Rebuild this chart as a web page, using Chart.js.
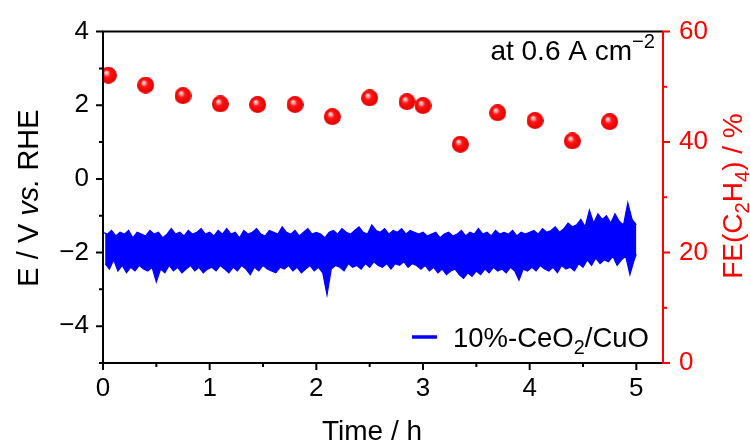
<!DOCTYPE html>
<html>
<head>
<meta charset="utf-8">
<script src="https://cdn.jsdelivr.net/npm/chart.js@4/dist/chart.umd.min.js"></script>
<style>
  html, body { margin: 0; padding: 0; background: #fff; }
</style>
</head>
<body>
<canvas id="chart" width="750" height="446"></canvas>
<script>
// FE(C2H4) sampling points
var feTimes = [0.05, 0.4, 0.75, 1.1, 1.45, 1.8, 2.15, 2.5, 2.85, 3.0, 3.35, 3.7, 4.05, 4.4, 4.75];
var feValues = [52.1, 50.3, 48.4, 46.9, 46.8, 46.8, 44.6, 48.0, 47.3, 46.6, 39.6, 45.3, 43.9, 40.2, 43.7];

// potential trace, read as upper / lower envelope every 0.04 h
var traceStep = 0.04;
var traceHigh = [
  -1.45,-1.5,-1.4,-1.55,-1.45,-1.5,-1.4,-1.6,-1.45,-1.5,-1.55,-1.4,-1.5,-1.45,-1.6,-1.5,-1.35,-1.5,-1.45,-1.55,-1.4,-1.5,-1.45,-1.35,-1.5,
  -1.45,-1.55,-1.4,-1.5,-1.35,-1.5,-1.45,-1.6,-1.4,-1.5,-1.45,-1.35,-1.5,-1.55,-1.4,-1.45,-1.5,-1.3,-1.45,-1.5,-1.4,-1.55,-1.45,-1.35,-1.5,
  -1.45,-1.5,-1.6,-1.45,-1.4,-1.5,-1.35,-1.45,-1.5,-1.4,-1.3,-1.45,-1.5,-1.25,-1.4,-1.45,-1.35,-1.5,-1.4,-1.45,-1.35,-1.5,-1.4,-1.45,-1.5,
  -1.45,-1.55,-1.5,-1.45,-1.6,-1.5,-1.45,-1.55,-1.5,-1.4,-1.55,-1.45,-1.5,-1.35,-1.5,-1.45,-1.55,-1.4,-1.5,-1.45,-1.5,-1.4,-1.55,-1.45,-1.5,
  -1.45,-1.4,-1.5,-1.35,-1.45,-1.4,-1.3,-1.45,-1.35,-1.2,-1.3,-1.25,-1.1,-1.3,-0.85,-1.2,-0.95,-1.1,-1.0,-1.2,-0.95,-1.15,-1.25,-0.65,-1.1,-1.25
];
var traceLow = [
  -2.3,-2.45,-2.2,-2.5,-2.35,-2.55,-2.4,-2.5,-2.35,-2.45,-2.5,-2.4,-2.8,-2.45,-2.55,-2.35,-2.5,-2.4,-2.55,-2.45,-2.35,-2.5,-2.4,-2.55,-2.45,
  -2.4,-2.5,-2.35,-2.45,-2.55,-2.4,-2.5,-2.35,-2.45,-2.6,-2.4,-2.5,-2.35,-2.45,-2.5,-2.55,-2.4,-2.45,-2.35,-2.5,-2.4,-2.55,-2.45,-2.35,-2.5,
  -2.4,-2.55,-3.15,-2.45,-2.35,-2.4,-2.5,-2.3,-2.4,-2.35,-2.45,-2.3,-2.4,-2.25,-2.35,-2.4,-2.3,-2.45,-2.3,-2.35,-2.25,-2.4,-2.3,-2.35,-2.45,
  -2.35,-2.5,-2.4,-2.55,-2.45,-2.6,-2.5,-2.45,-2.6,-2.7,-2.55,-2.65,-2.5,-2.6,-2.45,-2.55,-2.4,-2.5,-2.45,-2.55,-2.4,-2.5,-2.75,-2.45,-2.5,
  -2.4,-2.5,-2.35,-2.45,-2.5,-2.4,-2.55,-2.35,-2.45,-2.4,-2.5,-2.3,-2.4,-2.2,-2.35,-2.15,-2.3,-2.2,-2.25,-2.1,-2.35,-2.2,-2.1,-2.6,-2.2,-2.05
];

var FONT = '"Liberation Sans", Arial, sans-serif';
var BLUE = '#0000ff';

// envelope points, low side shifted half a step so edges look jagged
var highPoints = traceHigh.map(function(v, i) { return {x: i * traceStep, y: v}; });
var lowPoints = traceLow.map(function(v, i) { return {x: Math.min(i * traceStep + traceStep / 2, 5.0), y: v}; });

var fePoints = feTimes.map(function(t, k) { return {x: t, y: feValues[k]}; });

// shaded red sphere marker
function makeSphere(r)
{
  var c = document.createElement('canvas');
  c.width = 2 * r; c.height = 2 * r;
  var g = c.getContext('2d');
  var grad = g.createRadialGradient(r * 0.72, r * 0.65, 0, r, r, r);
  grad.addColorStop(0, '#ffffff');
  grad.addColorStop(0.2, '#ff9a9a');
  grad.addColorStop(0.42, '#ff1414');
  grad.addColorStop(1, '#e00000');
  g.fillStyle = grad;
  g.beginPath();
  g.arc(r, r, r, 0, Math.PI * 2);
  g.fill();
  return c;
}
var sphere = makeSphere(8.5);

// text with italic / sub / sup pieces
function richWidth(ctx, parts, size)
{
  var w = 0;
  parts.forEach(function(p) {
    var s = (p.sub || p.sup) ? size * 0.72 : size;
    ctx.font = (p.italic ? 'italic ' : '') + s + 'px ' + FONT;
    w += ctx.measureText(p.t).width;
  });
  return w;
}
function drawRich(ctx, parts, x, y, size, color, align, rot)
{
  ctx.save();
  ctx.translate(x, y);
  if (rot) ctx.rotate(rot);
  var w = richWidth(ctx, parts, size);
  var cx = align == 'center' ? -w / 2 : (align == 'right' ? -w : 0);
  ctx.fillStyle = color;
  ctx.textBaseline = 'alphabetic';
  ctx.textAlign = 'left';
  parts.forEach(function(p) {
    var s = (p.sub || p.sup) ? size * 0.72 : size;
    var dy = p.sub ? size * 0.25 : (p.sup ? -size * 0.42 : 0);
    ctx.font = (p.italic ? 'italic ' : '') + s + 'px ' + FONT;
    ctx.fillText(p.t, cx, dy);
    cx += ctx.measureText(p.t).width;
  });
  ctx.restore();
}

var decorPlugin = {
  id: 'decor',
  afterDraw: function(chart)
  {
    var ctx = chart.ctx;
    var a = chart.chartArea;
    var xs = chart.scales.x, ys = chart.scales.y, y1 = chart.scales.y1;
    ctx.save();
    ctx.lineWidth = 2;
    ctx.lineCap = 'butt';

    // frame
    ctx.strokeStyle = '#000';
    ctx.beginPath();
    ctx.moveTo(a.right, a.top); ctx.lineTo(a.left, a.top);
    ctx.lineTo(a.left, a.bottom); ctx.lineTo(a.right, a.bottom);
    ctx.stroke();

    // left ticks
    ctx.beginPath();
    for (var v = -5; v <= 4; v++) {
      var py = ys.getPixelForValue(v);
      var len = (v % 2 == 0) ? 7 : 4;
      ctx.moveTo(a.left, py); ctx.lineTo(a.left - len, py);
    }
    // bottom ticks
    for (var t = 0; t <= 5; t += 0.5) {
      var px = xs.getPixelForValue(t);
      var len2 = (Math.abs(t - Math.round(t)) < 0.01) ? 7 : 4;
      ctx.moveTo(px, a.bottom); ctx.lineTo(px, a.bottom + len2);
    }
    ctx.stroke();

    // right axis in red
    ctx.strokeStyle = '#ff0000';
    ctx.beginPath();
    ctx.moveTo(a.right, a.top - 1); ctx.lineTo(a.right, a.bottom + 1);
    for (var f = 0; f <= 60; f += 10) {
      var fy = y1.getPixelForValue(f);
      var len3 = (f % 20 == 0) ? 7 : 4;
      ctx.moveTo(a.right, fy); ctx.lineTo(a.right + len3, fy);
    }
    ctx.stroke();

    // axis titles
    drawRich(ctx, [{t: 'E / V '}, {t: 'vs.', italic: true}, {t: ' RHE'}], 38, 198, 29, '#000', 'center', -Math.PI / 2);
    drawRich(ctx, [{t: 'FE(C'}, {t: '2', sub: true}, {t: 'H'}, {t: '4', sub: true}, {t: ') / %'}], 742, 196, 28, '#ff0000', 'center', -Math.PI / 2);
    drawRich(ctx, [{t: 'Time / h'}], 372, 440, 28, '#000', 'center', 0);

    // annotation
    drawRich(ctx, [{t: 'at 0.6 A cm'}, {t: '\u22122', sup: true}], 655, 60, 28, '#000', 'right', 0);

    // legend
    ctx.strokeStyle = BLUE;
    ctx.lineWidth = 3.5;
    ctx.beginPath();
    ctx.moveTo(412, 337); ctx.lineTo(437, 337);
    ctx.stroke();
    drawRich(ctx, [{t: '10%-CeO'}, {t: '2', sub: true}, {t: '/CuO'}], 453, 347, 27.5, '#000', 'left', 0);

    ctx.restore();
  }
};

var chart = new Chart(document.getElementById('chart'), {
  type: 'line',
  data: {
    datasets: [
      {
        label: 'upper',
        data: highPoints,
        yAxisID: 'y',
        borderColor: BLUE,
        borderWidth: 1.2,
        pointRadius: 0,
        tension: 0,
        fill: false
      },
      {
        label: '10%-CeO2/CuO',
        data: lowPoints,
        yAxisID: 'y',
        borderColor: BLUE,
        backgroundColor: BLUE,
        borderWidth: 1.2,
        pointRadius: 0,
        tension: 0,
        fill: '-1'
      },
      {
        label: 'FE',
        data: fePoints,
        yAxisID: 'y1',
        showLine: false,
        pointStyle: sphere,
        pointRadius: 8.5,
        pointHoverRadius: 8.5
      }
    ]
  },
  plugins: [decorPlugin],
  options: {
    responsive: false,
    animation: false,
    layout: { padding: { top: 25, left: 0, right: 0, bottom: 0 } },
    plugins: { legend: { display: false }, tooltip: { enabled: false } },
    scales: {
      x: {
        type: 'linear',
        min: 0, max: 5.25,
        grid: { display: false, drawTicks: false },
        border: { display: false },
        afterFit: function(s) { s.height = 83; },
        afterBuildTicks: function(s) { s.ticks = [0, 1, 2, 3, 4, 5].map(function(v) { return {value: v}; }); },
        ticks: { color: '#000', font: { family: FONT, size: 26 }, padding: 10, maxRotation: 0 }
      },
      y: {
        position: 'left',
        min: -5, max: 4,
        grid: { display: false, drawTicks: false },
        border: { display: false },
        afterFit: function(s) { s.width = 103; },
        afterBuildTicks: function(s) { s.ticks = [-4, -2, 0, 2, 4].map(function(v) { return {value: v}; }); },
        ticks: {
          color: '#000', font: { family: FONT, size: 26 }, padding: 14,
          callback: function(v) { return v < 0 ? '\u2212' + Math.abs(v) : '' + v; }
        }
      },
      y1: {
        position: 'right',
        min: 0, max: 60,
        grid: { display: false, drawTicks: false },
        border: { display: false },
        afterFit: function(s) { s.width = 87; },
        afterBuildTicks: function(s) { s.ticks = [0, 20, 40, 60].map(function(v) { return {value: v}; }); },
        ticks: { color: '#ff0000', font: { family: FONT, size: 26 }, padding: 16 }
      }
    }
  }
});
</script>
</body>
</html>
